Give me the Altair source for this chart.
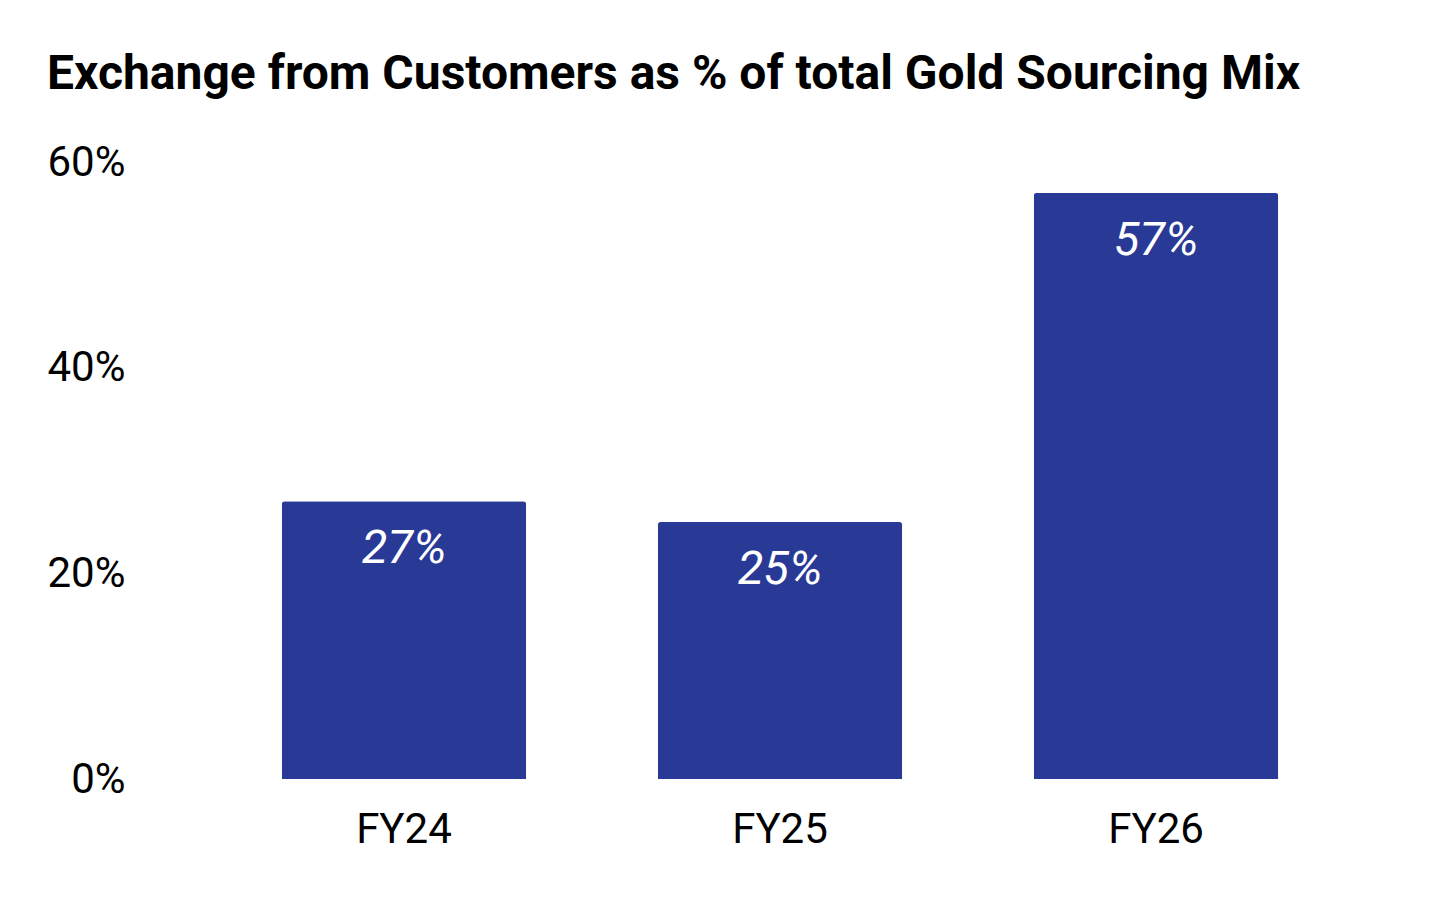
import altair as alt
import pandas as pd

years = ["FY24", "FY25", "FY26"]
shares = [27, 25, 57]
labels = ["27%", "25%", "57%"]

df = pd.DataFrame({"year": years, "share": shares, "label": labels})

bar_color = "#283a96"

base = alt.Chart(df).encode(
    x=alt.X("year:N", sort=years, title=None,
            scale=alt.Scale(paddingInner=0.35, paddingOuter=0.377),
            axis=alt.Axis(labelAngle=0, labelFontSize=42, labelFont="Roboto",
                          labelColor="#000000", labelPadding=30, ticks=False,
                          domain=False, grid=False)),
    y=alt.Y("share:Q", title=None,
            scale=alt.Scale(domain=[0, 60], nice=False),
            axis=alt.Axis(values=[0, 20, 40, 60], labelExpr="datum.value + '%'",
                          labelFontSize=42, labelFont="Roboto", labelColor="#000000",
                          labelPadding=15, ticks=False, domain=False, grid=False)),
)

bars = base.mark_bar(color=bar_color, cornerRadiusTopLeft=3, cornerRadiusTopRight=3)

text = base.mark_text(color="white", font="Roboto", fontSize=47, fontStyle="italic",
                      baseline="middle", dy=48).encode(text="label:N")

chart = (bars + text).properties(
    width=1280,
    height=617,
    padding={"left": 132, "top": 154, "right": 20, "bottom": 110},
    autosize=alt.AutoSizeParams(type="none"),
    title=alt.TitleParams(
        "Exchange from Customers as % of total Gold Sourcing Mix",
        anchor="start", frame="group", dx=-93, offset=42,
        font="Roboto", fontSize=48, fontWeight="bold", color="#000000",
    ),
).configure(background="white").configure_view(strokeWidth=0, stroke="transparent")

chart.save("out.html", embed_options={"renderer": "svg", "actions": False})
